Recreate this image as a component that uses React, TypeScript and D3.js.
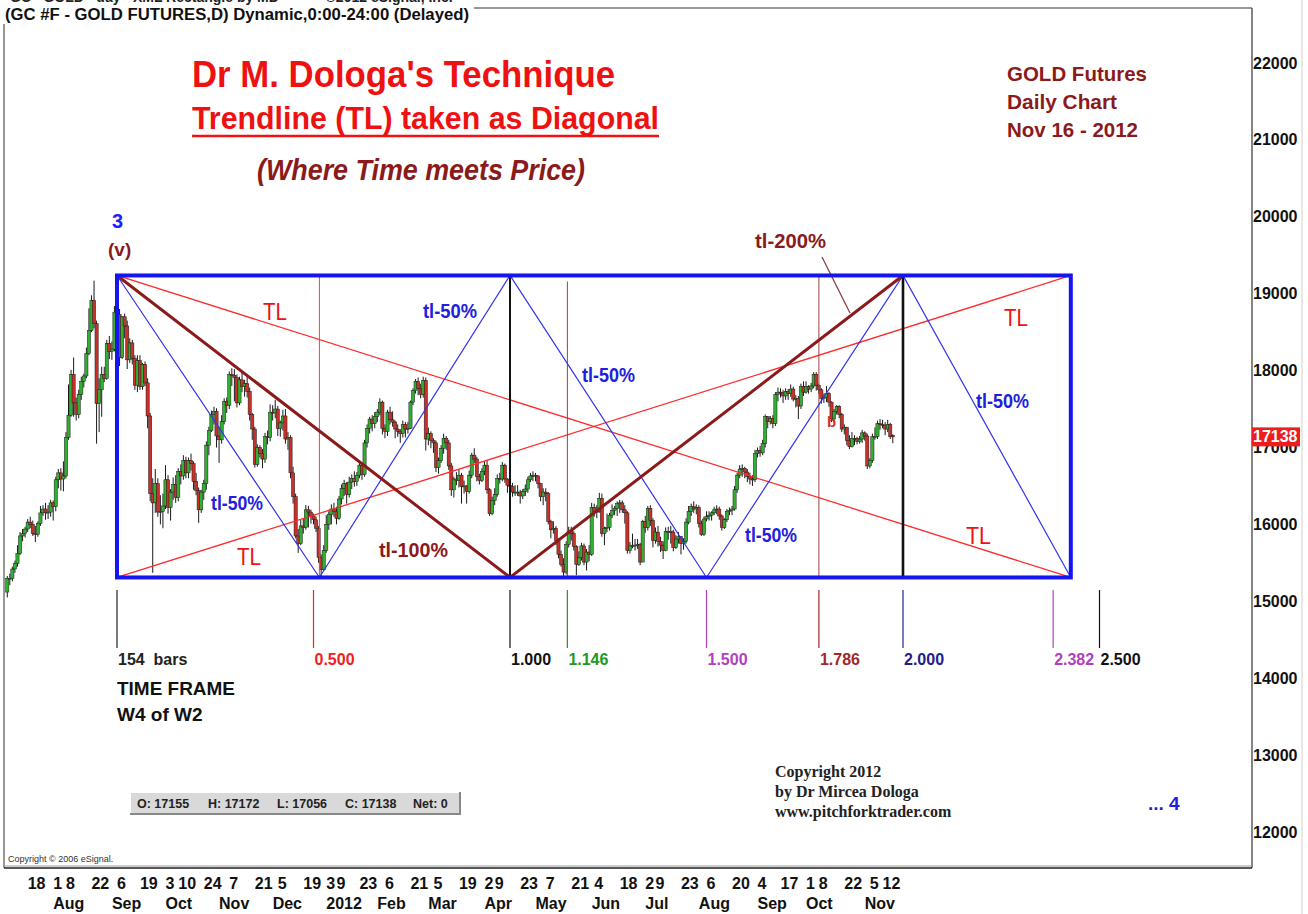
import React from "react";
import * as d3 from "d3";

const W = 1308;
const H = 914;
const SANS = "'Liberation Sans', Arial, sans-serif";
const SERIF = "'Liberation Serif', 'Times New Roman', serif";

// ---- calendar ----
const START_DATE = "2011-07-06";
const PIVOT_DATE = "2011-09-06"; // 3 (v) top
const CYCLE_BARS = 154;
const holidays = ["2011-09-05", "2011-11-24", "2011-12-26", "2012-01-02", "2012-01-16", "2012-02-20", "2012-04-06", "2012-05-28", "2012-07-04", "2012-09-03"];

// ---- daily OHLC (USD), Jul 6 2011 .. Nov 16 2012 ----
const opens = [
  1512,1530,1530,1542,1549,1562,1585,1588,1594,1603,1600,1588,1587,1601,1615,1620,1615,1616,
  1628,1623,1658,1667,1659,1663,1713,1742,1795,1758,1743,1769,1786,1793,1822,1852,1891,1861,1757,1775,1795,1790,1835,
  1825,1828,1876,1873,1817,1870,1858,1814,1836,1816,1781,1813,1779,1808,1784,1741,1640,1628,1653,1616,1617,
  1624,1658,1622,1642,1652,1635,1669,1663,1683,1667,1683,1679,1656,1644,1619,1642,1653,1703,1722,1743,1747,
  1715,1710,1734,1760,1755,1795,1794,1791,1758,1788,1779,1783,1773,1743,1724,1678,1700,1692,1685,1714,1713,
  1746,1745,1750,1725,1732,1741,1711,1713,1667,1636,1585,1575,1598,1596,1619,1616,1611,1606,1595,1557,1541,
  1566,1600,1613,1620,1617,1608,1633,1647,1653,1639,1655,1660,1656,1664,1677,1665,1706,1725,1737,1731,
  1740,1746,1759,1725,1721,1746,1736,1733,1724,1721,1718,1730,1724,1725,1759,1774,1786,1777,1769,1787,
  1711,1718,1709,1706,1674,1683,1699,1712,1706,1676,1645,1659,1657,1664,1649,1650,1643,1664,1690,1685,1662,1657,
  1669,1677,1645,1614,1631,1639,1660,1659,1677,1659,1651,1649,1642,1642,1642,1637,1643,1646,1658,1663,
  1664,1663,1653,1636,1642,1640,1604,1593,1595,1579,1561,1548,1538,1574,1591,1588,1571,1548,1557,1572,1551,1564,
  1561,1622,1617,1617,1634,1588,1595,1596,1612,1618,1621,1627,1628,1619,1615,1566,1572,1573,1573,1574,1551,
  1604,1596,1621,1605,1579,1590,1578,1573,1566,1591,1591,1590,1570,1581,1584,1575,1578,1603,1617,1623,1620,
  1622,1601,1587,1607,1610,1612,1615,1619,1620,1611,1596,1606,1617,1618,1620,1645,1664,1672,1673,1668,1662,1659,1658,
  1692,1696,1693,1705,1740,1734,1738,1731,1769,1772,1771,1767,1773,1770,1776,1763,1764,1754,1779,
  1772,1779,1776,1780,1795,1781,1775,1764,1765,1770,1759,1737,1747,1753,1743,1724,1726,1709,1701,1712,1712,1708,1711,
  1719,1715,1676,1683,1714,1714,1731,1730,1729,1724,1730,1715.5,
];
const highs = [
  1533,1536,1545,1553,1573,1590,1594,1597,1607,1610,1605,1598,1604,1624,1625,1628,1625,1632,
  1631,1662,1672,1673,1682,1720,1782,1801,1817,1765,1775,1792,1796,1830,1881,1898,1917,1865,1790,1805,1805,1840,1845,
  1838,1884,1923.7,1880,1871,1874,1865,1842,1840,1820,1820,1820,1810,1812,1790,1745,1660,1672,1660,1638,1640,
  1677,1664,1646,1661,1664,1673,1678,1690,1688,1687,1692,1682,1667,1648,1645,1658,1708,1727,1748,1753,1751,
  1727,1742,1764,1765,1799,1803,1802,1795,1792,1798,1788,1792,1778,1745,1727,1704,1703,1698,1719,1722,1756,
  1755,1762,1754,1735,1749,1750,1720,1716,1675,1640,1594,1606,1607,1625,1624,1619,1614,1610,1598,1561,1573,
  1612,1617,1626,1628,1623,1637,1652,1658,1655,1662,1665,1669,1668,1681,1680,1710,1730,1740,1742,1746,
  1750,1764,1761,1730,1749,1753,1747,1735,1730,1724,1735,1733,1733,1761,1777,1789,1791,1783,1792,1791,
  1726,1721,1712,1709,1687,1703,1718,1715,1710,1680,1662,1668,1671,1667,1657,1651,1670,1693,1699,1688,1666,1673,
  1682,1683,1647,1636,1647,1665,1667,1681,1679,1660,1655,1654,1651,1651,1645,1646,1652,1662,1667,1669,
  1667,1664,1654,1647,1647,1642,1606,1604,1598,1582,1566,1556,1578,1597,1597,1591,1573,1565,1576,1575,1568,1573,
  1628,1627,1625,1641,1640,1597,1614,1615,1626,1624,1630,1632,1631,1625,1617,1577,1588,1581,1581,1576,1606,
  1611,1624,1625,1608,1596,1598,1584,1578,1596,1597,1598,1593,1586,1590,1585,1582,1608,1624,1627,1630,1626,
  1625,1605,1610,1617,1617,1617,1623,1625,1623,1613,1608,1620,1622,1624,1650,1667,1677,1678,1675,1672,1667,1664,1697,
  1700,1702,1710,1743,1741,1741,1742,1772,1778,1777,1775,1777,1776,1782,1779,1768,1767,1783,1786,
  1786,1781,1784,1798,1798,1783,1777,1770,1780,1772,1760,1750,1755,1755,1745,1730,1727,1716,1720,1716,1714,1715,1723,
  1721,1718,1686,1718,1726,1735,1737,1736,1733,1736,1732,1717.2,
];
const lows = [
  1505,1521,1526,1537,1545,1560,1578,1583,1590,1595,1585,1577,1584,1598,1611,1606,1607,1610,
  1605,1617,1647,1644,1643,1660,1710,1740,1740,1735,1738,1762,1778,1790,1820,1850,1855,1705,1720,1740,1785,1788,1815,
  1814,1825,1865,1806,1815,1842,1802,1810,1808,1775,1772,1775,1775,1780,1725,1630,1537,1615,1610,1600,1595,
  1620,1614,1605,1632,1628,1630,1652,1658,1660,1660,1670,1645,1638,1602,1615,1632,1645,1690,1720,1730,1700,
  1680,1705,1730,1745,1750,1780,1760,1752,1755,1772,1766,1765,1735,1710,1674,1675,1687,1673,1680,1704,1708,
  1735,1738,1715,1714,1722,1705,1697,1660,1627,1582,1563,1573,1588,1593,1596,1601,1600,1590,1550,1529,1540,
  1563,1593,1600,1610,1600,1606,1626,1637,1627,1635,1646,1649,1650,1660,1658,1662,1700,1718,1721,1725,
  1733,1742,1717,1712,1715,1730,1727,1712,1714,1706,1713,1713,1718,1724,1755,1770,1768,1764,1765,1696,
  1703,1699,1693,1668,1666,1680,1692,1697,1671,1637,1635,1651,1648,1627,1640,1627,1640,1660,1680,1656,1652,1655,
  1664,1640,1611,1612,1625,1636,1653,1656,1654,1641,1640,1636,1637,1637,1627,1633,1637,1641,1655,1656,
  1656,1647,1630,1625,1630,1600,1582,1588,1573,1556,1545,1529,1535,1570,1579,1566,1534,1546,1553,1547,1540,1552,
  1559,1610,1608,1615,1584,1573,1590,1592,1608,1612,1611,1615,1615,1601,1562,1562,1569,1566,1568,1547,1551,
  1589,1592,1598,1570,1575,1571,1564,1555,1565,1580,1575,1565,1568,1575,1561,1567,1575,1600,1611,1615,1613,
  1596,1585,1585,1604,1605,1605,1612,1613,1606,1592,1594,1603,1612,1612,1618,1641,1660,1662,1660,1655,1652,1650,1655,
  1687,1688,1690,1700,1725,1730,1725,1728,1760,1765,1758,1762,1762,1766,1760,1752,1737,1750,1767,
  1770,1770,1772,1777,1774,1770,1757,1758,1759,1753,1733,1733,1743,1738,1720,1717,1703,1698,1700,1703,1704,1705,1706,
  1709,1672,1673,1680,1710,1711,1723,1725,1716,1720,1711,1705.6,
];
const closes = [
  1530,1530,1542,1549,1562,1585,1588,1594,1603,1600,1588,1587,1601,1615,1620,1615,1616,1628,
  1623,1658,1667,1659,1663,1713,1742,1795,1758,1743,1769,1786,1793,1822,1852,1891,1861,1757,1775,1795,1790,1835,1825,
  1828,1876,1873,1817,1870,1858,1814,1836,1816,1781,1813,1779,1808,1784,1741,1640,1628,1653,1616,1617,1624,
  1658,1622,1642,1652,1635,1669,1663,1683,1667,1683,1679,1656,1644,1619,1642,1653,1703,1722,1743,1747,1715,
  1710,1734,1760,1755,1795,1794,1791,1758,1788,1779,1783,1773,1743,1724,1678,1700,1692,1685,1714,1713,1746,
  1745,1750,1725,1732,1741,1711,1713,1667,1636,1585,1575,1598,1596,1619,1616,1611,1606,1595,1557,1541,1566,
  1600,1613,1620,1617,1608,1633,1647,1653,1639,1655,1660,1656,1664,1677,1665,1706,1725,1737,1731,1740,
  1746,1759,1725,1721,1746,1736,1733,1724,1721,1718,1730,1724,1725,1759,1774,1786,1777,1769,1787,1711,
  1718,1709,1706,1674,1683,1699,1712,1706,1676,1645,1659,1657,1664,1649,1650,1643,1664,1690,1685,1662,1657,1669,
  1677,1645,1614,1631,1639,1660,1659,1677,1659,1651,1649,1642,1642,1642,1637,1643,1646,1658,1663,1664,
  1663,1653,1636,1642,1640,1604,1593,1595,1579,1561,1548,1538,1574,1591,1588,1571,1548,1557,1572,1551,1564,1561,
  1622,1617,1617,1634,1588,1595,1596,1612,1618,1621,1627,1628,1619,1615,1566,1572,1573,1573,1574,1551,1604,
  1596,1621,1605,1579,1590,1578,1573,1566,1591,1591,1590,1570,1581,1584,1575,1578,1603,1617,1623,1620,1622,
  1601,1587,1607,1610,1612,1615,1619,1620,1611,1596,1606,1617,1618,1620,1645,1664,1672,1673,1668,1662,1659,1658,1692,
  1696,1693,1705,1740,1734,1738,1731,1769,1772,1771,1767,1773,1770,1776,1763,1764,1754,1779,1772,
  1779,1776,1780,1795,1781,1775,1764,1765,1770,1759,1737,1747,1753,1743,1724,1726,1709,1701,1712,1712,1708,1711,1719,
  1715,1676,1683,1714,1714,1731,1730,1729,1724,1730,1714,1713.8,
];

// ---- axes ----
const priceTicks = [1200, 1300, 1400, 1500, 1600, 1700, 1800, 1900, 2000, 2100, 2200];
const dayTicks = ["2011-07-18","2011-08-01","2011-08-08","2011-08-22","2011-09-06","2011-09-19","2011-10-03","2011-10-10","2011-10-24","2011-11-07","2011-11-21","2011-12-05","2011-12-19","2012-01-03","2012-01-09","2012-01-23","2012-02-06","2012-02-21","2012-03-05","2012-03-19","2012-04-02","2012-04-09","2012-04-23","2012-05-07","2012-05-21","2012-06-04","2012-06-18","2012-07-02","2012-07-09","2012-07-23","2012-08-06","2012-08-20","2012-09-04","2012-09-17","2012-10-01","2012-10-08","2012-10-22","2012-11-05","2012-11-12"];
const monthTickDates = ["2011-08-01","2011-09-01","2011-10-03","2011-11-01","2011-12-01","2012-01-03","2012-02-01","2012-03-01","2012-04-02","2012-05-01","2012-06-01","2012-07-02","2012-08-01","2012-09-04","2012-10-01","2012-11-01"];
const monthTickLabels = ["Aug","Sep","Oct","Nov","Dec","2012","Feb","Mar","Apr","May","Jun","Jul","Aug","Sep","Oct","Nov"];

// ---- time ratios & rectangle ----
const timeRatios = [0, 0.5, 1, 1.146, 1.5, 1.786, 2, 2.382, 2.5];
const timeRatioLabels = ["154  bars", "0.500", "1.000", "1.146", "1.500", "1.786", "2.000", "2.382", "2.500"];
const timeRatioColors = ["#222222", "#ee2222", "#111111", "#229922", "#b040c0", "#a02828", "#202090", "#b040c0", "#111111"];
const rectTop = 1923.7;
const rectBottom = 1531;
const rectRightRatio = 2.427;
const tl50Vertices = [0, 0.515, 1, 1.5, 2, 2.427];
const tl100Vertices = [0, 1, 2];
const lastClose = 1713.8;

const fmt = d3.timeFormat("%Y-%m-%d");
const parse = d3.timeParse("%Y-%m-%d");
function tradingDays(n: number): string[] {
  const out: string[] = [];
  let d = parse(START_DATE) as Date;
  while (out.length < n) {
    const wd = d.getDay();
    const s = fmt(d);
    if (wd !== 0 && wd !== 6 && !holidays.includes(s)) out.push(s);
    d = d3.timeDay.offset(d, 1);
  }
  return out;
}

export default function App() {
  const n = closes.length;
  const days = tradingDays(n);
  const pivot = days.indexOf(PIVOT_DATE);
  const x = d3.scaleLinear().domain([pivot, pivot + CYCLE_BARS]).range([117, 510]);
  const y = d3.scaleLinear().domain([1200, 2200]).range([832, 63]);
  const xr = (r: number) => x(pivot + CYCLE_BARS * r);
  const xd = (s: string) => x(days.indexOf(s));
  const yT = y(rectTop);
  const yB = y(rectBottom);
  const xL = xr(0);
  const xR = xr(rectRightRatio);
  const zig = d3.line<[number, number]>();
  const tl50Pts: [number, number][] = tl50Vertices.map((r, i) => [xr(r), i % 2 === 0 ? yT : yB]);
  const tl100Pts: [number, number][] = tl100Vertices.map((r, i) => [xr(r), i % 2 === 0 ? yT : yB]);

  const bold = { fontFamily: SANS, fontWeight: 700 } as const;

  return (
    <div>
      <style>{"body{margin:0;background:#fff}"}</style>
      <svg width={W} height={H} style={{ display: "block", background: "#fff" }}>
        {/* frame */}
        <line x1={4} x2={1252} y1={8} y2={8} stroke="#333" strokeWidth={1} />
        <line x1={4} x2={4} y1={8} y2={868} stroke="#333" strokeWidth={1} />
        <line x1={1252} x2={1252} y1={8} y2={868} stroke="#333" strokeWidth={1.2} />
        <line x1={4} x2={1252} y1={866} y2={866} stroke="#999" strokeWidth={1} />
        <line x1={4} x2={1252} y1={868} y2={868} stroke="#222" strokeWidth={1.5} />
        <line x1={1302} x2={1302} y1={0} y2={H} stroke="#d0d0d0" strokeWidth={1} />

        {/* header */}
        <rect x={0} y={0} width={474} height={24} fill="#fff" />
        <text x={10} y={2} fontSize={14} {...bold} fill="#222" style={{ whiteSpace: "pre" }}>GC - GOLD - day - XML Rectangle by MD            ©2012 eSignal, Inc.</text>
        <text x={5} y={20} fontSize={16} {...bold} fill="#111" textLength={464} lengthAdjust="spacingAndGlyphs">(GC #F - GOLD FUTURES,D) Dynamic,0:00-24:00 (Delayed)</text>

        {/* candles */}
        {closes.map((c, i) => {
          const o = opens[i];
          const up = c >= o;
          const cx = x(i);
          const yt = y(Math.max(o, c));
          const yb = y(Math.min(o, c));
          return (
            <g key={i}>
              <line x1={cx} x2={cx} y1={y(highs[i])} y2={y(lows[i])} stroke="#1a1a1a" strokeWidth={1} />
              <rect x={cx - 1.6} width={3.2} y={yt} height={Math.max(1, yb - yt)} fill={up ? "#30b030" : "#c8302a"} stroke="#1a1a1a" strokeWidth={0.5} />
            </g>
          );
        })}

        {/* TL diagonals */}
        <line x1={xL} y1={yT} x2={xR} y2={yB} stroke="#ff2a2a" strokeWidth={1.3} />
        <line x1={xL} y1={yB} x2={xR} y2={yT} stroke="#ff2a2a" strokeWidth={1.3} />
        {/* verticals */}
        <line x1={xr(0.515)} x2={xr(0.515)} y1={yT} y2={yB} stroke="#ee4444" strokeWidth={1} />
        <line x1={xr(1.146)} x2={xr(1.146)} y1={yT + 6} y2={yB} stroke="#a04040" strokeWidth={1} />
        <line x1={xr(1.786)} x2={xr(1.786)} y1={yT} y2={yB} stroke="#a04040" strokeWidth={1} />
        <line x1={xr(1)} x2={xr(1)} y1={yT} y2={yB} stroke="#111" strokeWidth={2} />
        <line x1={xr(2)} x2={xr(2)} y1={yT} y2={yB} stroke="#111" strokeWidth={2.6} />
        {/* tl-50% zigzag */}
        <path d={zig(tl50Pts) || ""} fill="none" stroke="#3333ee" strokeWidth={1.2} />
        {/* tl-100% */}
        <path d={zig(tl100Pts) || ""} fill="none" stroke="#8b1a1a" strokeWidth={3} />
        {/* tl-200% leader */}
        <line x1={822} y1={257} x2={850} y2={313} stroke="#8b3a3a" strokeWidth={1.3} />
        {/* rectangle */}
        <rect x={xL} y={yT} width={xR - xL} height={yB - yT} fill="none" stroke="#1515f0" strokeWidth={4} />

        {/* titles */}
        <text x={192} y={87} fontSize={36} {...bold} fill="#ee1111" textLength={423} lengthAdjust="spacingAndGlyphs">Dr M. Dologa's Technique</text>
        <text x={192} y={129} fontSize={32} {...bold} fill="#ee1111" textLength={467} lengthAdjust="spacingAndGlyphs">Trendline (TL) taken as Diagonal</text>
        <line x1={192} x2={659} y1={136} y2={136} stroke="#ee1111" strokeWidth={2.5} />
        <text x={257} y={180} fontSize={29} {...bold} fontStyle="italic" fill="#8b1a1a" textLength={328} lengthAdjust="spacingAndGlyphs">(Where Time meets Price)</text>
        <text x={1007} y={81} fontSize={21} {...bold} fill="#8b1a1a" textLength={140} lengthAdjust="spacingAndGlyphs">GOLD Futures</text>
        <text x={1007} y={109} fontSize={21} {...bold} fill="#8b1a1a" textLength={110} lengthAdjust="spacingAndGlyphs">Daily Chart</text>
        <text x={1007} y={137} fontSize={21} {...bold} fill="#8b1a1a" textLength={131} lengthAdjust="spacingAndGlyphs">Nov 16 - 2012</text>

        {/* wave labels */}
        <text x={112} y={228} fontSize={20} {...bold} fill="#2020ff">3</text>
        <text x={108} y={256} fontSize={19} {...bold} fill="#8b1a1a">(v)</text>

        {/* line labels */}
        <text x={263} y={320} fontSize={23} fontFamily={SANS} fill="#ee1111" textLength={24} lengthAdjust="spacingAndGlyphs">TL</text>
        <text x={237} y={565} fontSize={23} fontFamily={SANS} fill="#ee1111" textLength={24} lengthAdjust="spacingAndGlyphs">TL</text>
        <text x={1004} y={326} fontSize={23} fontFamily={SANS} fill="#ee1111" textLength={24} lengthAdjust="spacingAndGlyphs">TL</text>
        <text x={966} y={544} fontSize={23} fontFamily={SANS} fill="#ee1111" textLength={25} lengthAdjust="spacingAndGlyphs">TL</text>
        <text x={423} y={318} fontSize={20} {...bold} fill="#2020dd" textLength={54} lengthAdjust="spacingAndGlyphs">tl-50%</text>
        <text x={582} y={382} fontSize={20} {...bold} fill="#2020dd" textLength={53} lengthAdjust="spacingAndGlyphs">tl-50%</text>
        <text x={211} y={510} fontSize={20} {...bold} fill="#2020dd" textLength={52} lengthAdjust="spacingAndGlyphs">tl-50%</text>
        <text x={745} y={542} fontSize={20} {...bold} fill="#2020dd" textLength={52} lengthAdjust="spacingAndGlyphs">tl-50%</text>
        <text x={976} y={408} fontSize={20} {...bold} fill="#2020dd" textLength={53} lengthAdjust="spacingAndGlyphs">tl-50%</text>
        <text x={379} y={557} fontSize={20} {...bold} fill="#8b1a1a" textLength={69} lengthAdjust="spacingAndGlyphs">tl-100%</text>
        <text x={755} y={248} fontSize={20} {...bold} fill="#8b1a1a" textLength={71} lengthAdjust="spacingAndGlyphs">tl-200%</text>
        <text x={827} y={427} fontSize={15} {...bold} fill="#d03030">b</text>

        {/* time ratio ticks */}
        {timeRatios.map((r, i) => (
          <g key={"tr" + i}>
            <line x1={xr(r)} x2={xr(r)} y1={590} y2={648} stroke={timeRatioColors[i]} strokeWidth={1.2} />
            <text x={xr(r) + 1} y={665} fontSize={16} {...bold} fill={timeRatioColors[i]} style={{ whiteSpace: "pre" }}>{timeRatioLabels[i]}</text>
          </g>
        ))}
        <text x={117} y={695} fontSize={19} {...bold} fill="#111" textLength={118} lengthAdjust="spacingAndGlyphs">TIME FRAME</text>
        <text x={117} y={721} fontSize={19} {...bold} fill="#111">W4 of W2</text>

        {/* OHLC box */}
        <rect x={130} y={792} width={330} height={22} fill="#d9d9d9" />
        <line x1={130} x2={460} y1={792.5} y2={792.5} stroke="#fff" strokeWidth={1} />
        <line x1={130.5} x2={130.5} y1={792} y2={814} stroke="#fff" strokeWidth={1} />
        <line x1={130} x2={460} y1={814} y2={814} stroke="#888" strokeWidth={2} />
        <line x1={460} x2={460} y1={792} y2={815} stroke="#888" strokeWidth={2} />
        <text y={808} fontSize={12.5} {...bold} fill="#222">
          <tspan x={137}>O: 17155</tspan>
          <tspan x={208}>H: 17172</tspan>
          <tspan x={277}>L: 17056</tspan>
          <tspan x={345}>C: 17138</tspan>
          <tspan x={413}>Net: 0</tspan>
        </text>

        {/* copyright */}
        <text x={775} y={777} fontSize={16} fontFamily={SERIF} fontWeight={700} fill="#222">Copyright 2012</text>
        <text x={775} y={797} fontSize={16} fontFamily={SERIF} fontWeight={700} fill="#222">by Dr Mircea Dologa</text>
        <text x={775} y={817} fontSize={16} fontFamily={SERIF} fontWeight={700} fill="#222">www.pitchforktrader.com</text>
        <text x={1148} y={810} fontSize={19} {...bold} fill="#2020dd">... 4</text>
        <text x={8} y={862} fontSize={9} fontFamily={SANS} fill="#333">Copyright © 2006 eSignal.</text>

        {/* price axis */}
        {priceTicks.map((p) => (
          <text key={"p" + p} x={1253} y={y(p) + 5.5} fontSize={16} {...bold} fill="#111">{String(p * 10)}</text>
        ))}
        <rect x={1252} y={y(lastClose) - 9.5} width={48} height={19} fill="#ee1c1c" />
        <text x={1253} y={y(lastClose) + 5.5} fontSize={16} {...bold} fill="#fff">{String(Math.round(lastClose * 10))}</text>

        {/* date axis */}
        {dayTicks.map((s) => (
          <text key={"d" + s} x={xd(s)} y={889} fontSize={16} {...bold} fill="#111">{String(+s.slice(8))}</text>
        ))}
        {monthTickDates.map((s, i) => (
          <text key={"m" + s} x={xd(s)} y={909} fontSize={16} {...bold} fill="#111">{monthTickLabels[i]}</text>
        ))}
      </svg>
    </div>
  );
}
